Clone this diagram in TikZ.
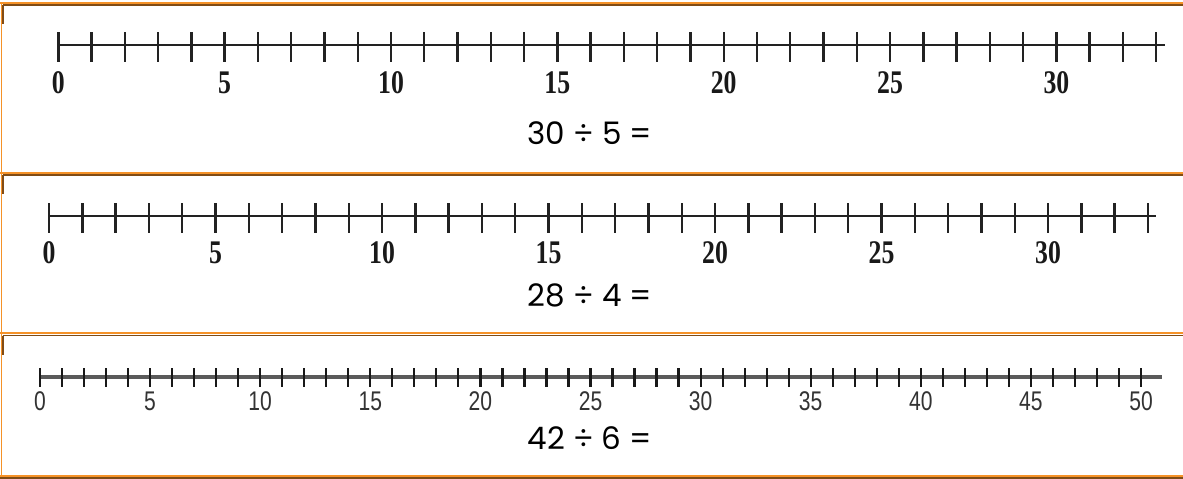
\documentclass[tikz,border=0pt]{standalone}
\usepackage{fontspec}
\newfontfamily\numfont[FakeStretch=0.78]{Liberation Serif}
\newfontfamily\smallnum[FakeStretch=0.78]{Liberation Sans}
\newfontfamily\eqfont{Poppins}
\definecolor{bord}{RGB}{245,146,40}
\definecolor{bordd}{RGB}{128,76,22}
\definecolor{axisgray}{RGB}{90,90,90}
\definecolor{tick}{RGB}{34,34,34}
\tikzset{
  orangeline/.style={draw=bord,line width=1.8pt},
  brownline/.style={draw=bordd,line width=1.8pt},
  axisline/.style={draw=tick,line width=2.2pt},
  tickline/.style={draw=tick,line width=2.4pt},
  axisthick/.style={draw=axisgray,line width=4.5pt},
  tickthin/.style={draw=black!90,line width=2.2pt},
  biglabel/.style={inner sep=0pt,font=\numfont\bfseries\fontsize{33}{33}\selectfont,text=black!90},
  smalllabel/.style={inner sep=0pt,font=\smallnum\fontsize{27}{27}\selectfont,text=black!80},
  eqlabel/.style={inner sep=0pt,font=\eqfont\fontsize{31}{31}\selectfont},
}
\begin{document}
\begin{tikzpicture}[x=1pt,y=-1pt]
\useasboundingbox (0,0) rectangle (1183,479);
\fill[white] (0,0) rectangle (1183,479);
% frame
\draw[orangeline] (1.5,2) -- (1.5,479);
\foreach \yy/\yb in {3/5, 172.8/175, 332.7/335.5}{
  \draw[orangeline] (0,\yy) -- (1183,\yy);
  \draw[brownline] (2.6,\yb) -- (1183,\yb);
  \draw[brownline] (3.2,\yb) -- (3.2,\yb+19);
}
\draw[orangeline] (0,476) -- (1183,476);
\draw[brownline] (0,478.3) -- (1183,478.3);

% number line 1
\coordinate (a1s) at (58.3,45);
\coordinate (a1e) at (1165,45);
\draw[axisline] (a1s) -- (a1e);
\foreach \i in {0,...,33}{
  \draw[tickline] (58.3+\i*33.27,32) -- (58.3+\i*33.27,61.5);
}
\foreach \i in {0,5,...,30}{
  \node[biglabel] (l1-\i) at (58.3+\i*33.27,83) {\i};
}
\node[eqlabel] (eq1) at (590,133) {30 ÷ 5 =};

% number line 2
\coordinate (a2s) at (49,216);
\coordinate (a2e) at (1156,216);
\draw[axisline] (a2s) -- (a2e);
\foreach \i in {0,...,33}{
  \draw[tickline] (49+\i*33.3,203) -- (49+\i*33.3,233);
}
\foreach \i in {0,5,...,30}{
  \node[biglabel] (l2-\i) at (49+\i*33.3,253) {\i};
}
\node[eqlabel] (eq2) at (590,295) {28 ÷ 4 =};

% number line 3
\coordinate (a3s) at (39,377);
\coordinate (a3e) at (1162,377);
\draw[axisthick] (a3s) -- (a3e);
\foreach \i in {0,...,50}{
  \draw[tickthin] (40+\i*22.02,368) -- (40+\i*22.02,387);
}
\foreach \i in {0,5,...,50}{
  \node[smalllabel] (l3-\i) at (40+\i*22.02,401) {\i};
}
\node[eqlabel] (eq3) at (590,438) {42 ÷ 6 =};
\end{tikzpicture}
\end{document}
